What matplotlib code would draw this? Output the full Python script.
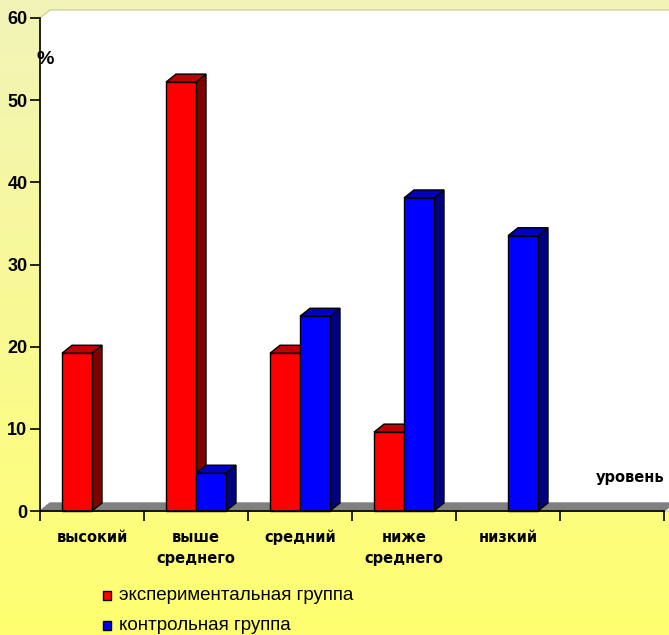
import numpy as np
import matplotlib.pyplot as plt
from matplotlib.patches import Polygon, Rectangle

# data
categories = ["высокий", "выше\nсреднего", "средний", "ниже\nсреднего", "низкий", ""]
exp_group = [19.2, 52.2, 19.2, 9.6, 0, 0]
ctrl_group = [0, 4.6, 23.7, 38.1, 33.5, 0]
yticks = [0, 10, 20, 30, 40, 50, 60]
series_names = ["экспериментальная группа", "контрольная группа"]

# colours of front / side / top faces
red = ("#ff0000", "#800000", "#c00000")
blue = ("#0000ff", "#000080", "#0000c0")

W, H = 669, 635
fig = plt.figure(figsize=(W / 100, H / 100), dpi=100)

# yellow gradient background
bg = fig.add_axes([0, 0, 1, 1], zorder=-10)
top = np.array([0xf2, 0xf4, 0xb8]) / 255
bot = np.array([0xff, 0xff, 0x70]) / 255
t = np.linspace(0, 1, 256)[:, None]
grad = top * (1 - t) + bot * t
bg.imshow(grad[:, None, :].repeat(2, axis=1), aspect="auto", extent=[0, 1, 0, 1])
bg.axis("off")

ax = fig.add_axes([40 / W, (H - 511) / H, 624 / W, 493 / H])
ax.set_xlim(0, 6)
ax.set_ylim(0, 60)
ax.patch.set_alpha(0)

dx = 10 / 104  # depth offset in slot units
dy = 8 / (493 / 60)  # depth offset in value units
bw = 30 / 104

# back wall (white) with chamfered corner
wall = Polygon([(0, 0), (0, 60), (dx, 60 + dy), (6.1, 60 + dy), (6.1, 0)],
               closed=True, facecolor="white", edgecolor="#c8c890", lw=0.8,
               clip_on=False, zorder=0)
ax.add_patch(wall)

# floor
floor = Polygon([(0, 0), (6, 0), (6 + dx, dy), (dx, dy)], closed=True,
                facecolor="#808080", edgecolor="#808080", clip_on=False, zorder=1)
ax.add_patch(floor)


def bar3d(x, v, cols):
    if v <= 0:
        return
    front = Rectangle((x, 0), bw, v, facecolor=cols[0], edgecolor="black",
                      lw=1, zorder=3, clip_on=False)
    side = Polygon([(x + bw, 0), (x + bw + dx, dy), (x + bw + dx, v + dy), (x + bw, v)],
                   closed=True, facecolor=cols[1], edgecolor="black", lw=1,
                   zorder=2, clip_on=False)
    topf = Polygon([(x, v), (x + dx, v + dy), (x + bw + dx, v + dy), (x + bw, v)],
                   closed=True, facecolor=cols[2], edgecolor="black", lw=1,
                   zorder=2, clip_on=False)
    ax.add_patch(side)
    ax.add_patch(topf)
    ax.add_patch(front)


for i in range(len(categories)):
    c = i + 0.5
    bar3d(c - bw, exp_group[i], red)
for i in range(len(categories)):
    c = i + 0.5
    bar3d(c, ctrl_group[i], blue)

# axes styling
for s in ["top", "right"]:
    ax.spines[s].set_visible(False)
ax.spines["left"].set_color("black")
ax.spines["bottom"].set_color("black")
ax.spines["left"].set_zorder(5)
ax.spines["bottom"].set_zorder(5)
ax.spines["left"].set_linewidth(1.2)
ax.spines["bottom"].set_linewidth(1.2)

ax.set_yticks(yticks)
ax.set_yticklabels([str(v) for v in yticks], fontsize=13, fontweight="bold",
                   family="Liberation Sans")
ax.tick_params(axis="y", length=7, width=1.2, pad=2)

ax.set_xticks(range(7))
ax.set_xticklabels([])
ax.tick_params(axis="x", length=7, width=1.2, direction="out")
for i, lab in enumerate(categories):
    ax.text(i + 0.5, -2.3, lab, ha="center", va="top", fontsize=10.5,
            fontweight="bold", family="DejaVu Sans", linespacing=1.5)

ax.text(-0.03, 54.9, "%", fontsize=14, fontweight="bold", ha="left", va="center",
        family="Liberation Sans")
ax.text(6.0, 4.1, "уровень", fontsize=10.5, fontweight="bold", ha="right",
        va="center", family="DejaVu Sans")

# legend
for j, (name, cols) in enumerate(zip(series_names, [red, blue])):
    yy = 1 - (596 + j * 30) / H
    fig.patches.append(Rectangle((103 / W, yy - 4 / H), 8 / W, 9 / H,
                                 facecolor=cols[0], edgecolor="black", lw=1,
                                 transform=fig.transFigure))
    fig.text(119 / W, yy, name, fontsize=13.5, family="Liberation Sans",
             va="center", ha="left")

fig.savefig("out.png", dpi=100)
